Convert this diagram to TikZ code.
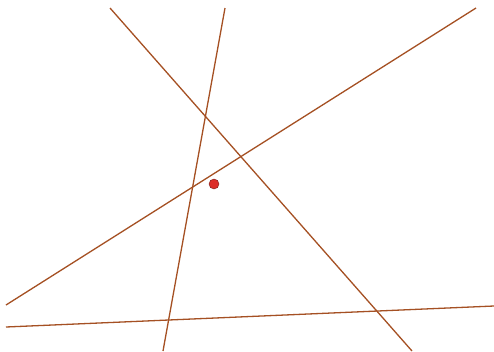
\documentclass[tikz,border=0pt]{standalone}
\usetikzlibrary{calc}
\definecolor{linebrown}{RGB}{165,80,35}
\definecolor{dotred}{RGB}{220,45,40}
\definecolor{dotedge}{RGB}{120,30,25}
\tikzset{
  gline/.style={draw=linebrown, line width=1.3pt},
  gdot/.style={circle, fill=dotred, draw=dotedge, line width=0.4pt, minimum size=10pt, inner sep=0pt}
}
\begin{document}
\begin{tikzpicture}[x=1pt,y=-1pt]
\useasboundingbox[fill=white] (0,0) rectangle (494,351);
\coordinate (a1) at (110,8);
\coordinate (a2) at (412,351);
\coordinate (b1) at (225,8);
\coordinate (b2) at (163,351);
\coordinate (c1) at (476,8);
\coordinate (c2) at (6,305);
\coordinate (d1) at (6,327);
\coordinate (d2) at (494,306);
\draw[gline] (a1) -- (a2);
\draw[gline] (b1) -- (b2);
\draw[gline] (c1) -- (c2);
\draw[gline] (d1) -- (d2);
\node[gdot] (p) at (214,184) {};
\end{tikzpicture}
\end{document}
